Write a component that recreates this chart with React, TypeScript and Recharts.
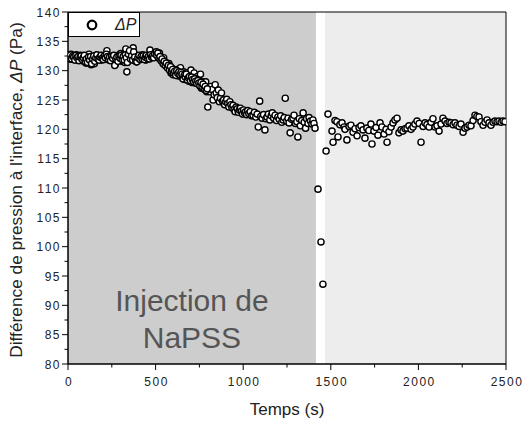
import React from 'react';
import { ScatterChart, Scatter, XAxis, YAxis, ReferenceArea, Legend } from 'recharts';

const FONT = '"Liberation Sans", Arial, Helvetica, sans-serif';

// Tick values (major + minor)
const xTicks = [0, 250, 500, 750, 1000, 1250, 1500, 1750, 2000, 2250, 2500];
const yTicks = [80, 82.5, 85, 87.5, 90, 92.5, 95, 97.5, 100, 102.5, 105, 107.5, 110, 112.5, 115, 117.5, 120, 122.5, 125, 127.5, 130, 132.5, 135, 137.5, 140];
const xMajorStep = 500;
const yMajorStep = 5;

// Shaded phases (s)
const injectionStart = 0;
const injectionEnd = 1415;
const recoveryStart = 1467;
const recoveryEnd = 2500;

// Plateau before injection effect (s, Pa)
const timePlateau = [0, 6, 12, 18, 24, 30, 36, 42, 48, 54, 60, 66, 72, 78, 84, 90, 96, 102, 108, 114, 120, 126, 132, 138, 144, 150, 156, 162, 168, 174, 180, 186, 192, 198, 204, 210, 216, 222, 228, 234, 240, 246, 252, 258, 264, 270, 276, 282, 288, 294, 300, 306, 312, 318, 324, 330, 336, 342, 348, 354, 360, 366, 372, 378, 384, 390, 396, 402, 408, 414, 420, 426, 432, 438, 444, 450, 456, 462, 468, 474, 480, 486, 492, 498];
const dpPlateau = [132.6, 132.3, 132.0, 132.8, 132.4, 131.9, 132.5, 132.2, 132.7, 131.8, 132.4, 132.1, 132.6, 132.0, 132.3, 131.6, 132.5, 131.3, 131.3, 132.2, 132.8, 132.0, 131.0, 131.5, 132.4, 131.2, 132.1, 132.6, 131.9, 132.3, 132.0, 132.5, 131.8, 132.2, 132.4, 131.9, 132.6, 133.4, 132.1, 131.8, 132.3, 132.0, 132.5, 131.7, 132.2, 131.1, 132.4, 131.8, 132.6, 132.0, 132.9, 131.6, 132.3, 132.8, 131.4, 133.7, 129.8, 132.5, 132.2, 133.0, 131.9, 132.4, 133.9, 132.1, 132.6, 131.5, 132.3, 132.0, 132.5, 131.9, 132.2, 132.7, 132.1, 132.4, 131.8, 132.3, 132.0, 132.6, 133.5, 132.2, 132.4, 132.8, 132.5, 133.0];
const timePlateauB = [3, 9, 15, 21, 27, 33, 39, 45, 51, 57, 63, 69, 75, 81, 87, 93, 99, 105, 111, 117, 123, 129, 135, 141, 147, 153, 159, 165, 171, 177, 183, 189, 195, 201, 207, 213, 219, 225, 231, 237, 243, 249, 255, 261, 267, 273, 279, 285, 291, 297, 303, 309, 315, 321, 327, 333, 339, 345, 351, 357, 363, 369, 375, 381, 387, 393, 399, 405, 411, 417, 423, 429, 435, 441, 447, 453, 459, 465, 471, 477, 483, 489, 495];
const dpPlateauB = [132.4, 132.1, 132.7, 132.0, 132.5, 132.3, 131.8, 132.6, 132.2, 132.4, 131.7, 132.3, 132.5, 131.9, 132.2, 132.6, 131.5, 132.0, 131.4, 132.3, 131.8, 132.4, 131.2, 132.0, 132.5, 131.6, 132.2, 132.7, 132.0, 131.8, 132.3, 132.6, 132.1, 131.9, 132.5, 132.2, 132.8, 132.4, 131.9, 132.3, 131.7, 132.4, 132.1, 132.6, 130.9, 132.0, 132.3, 131.6, 132.4, 132.1, 132.6, 131.9, 132.4, 131.8, 132.7, 132.2, 131.4, 132.8, 133.4, 132.0, 132.5, 131.8, 133.2, 132.3, 131.6, 131.5, 132.2, 132.6, 131.9, 132.4, 132.0, 132.5, 131.9, 132.3, 132.6, 132.1, 132.4, 132.0, 132.7, 132.3, 132.5, 132.2, 132.9];

// Decrease during injection
const timeDecline = [504, 510, 516, 522, 528, 534, 540, 546, 552, 558, 564, 570, 576, 582, 588, 594, 600, 606, 612, 618, 624, 630, 636, 642, 648, 654, 660, 666, 672, 678, 684, 690, 696, 702, 708, 714, 720, 726, 732, 738, 744, 750, 756, 762, 768, 774, 780, 786, 792, 798, 804, 810, 816, 822, 828, 834, 840, 846, 852, 858, 864, 870, 876, 882, 888, 894, 900, 906, 912, 918, 924, 930, 936, 942, 948, 954, 960, 966, 972, 978, 984, 990, 996, 1002, 1008, 1014, 1020, 1026, 1032, 1040, 1048, 1056, 1064, 1072, 1080, 1086, 1094, 1100, 1108, 1116, 1124, 1130, 1136, 1144, 1152, 1160, 1166, 1174, 1182, 1190, 1198, 1206, 1214, 1220, 1228, 1234, 1240, 1248, 1256, 1262, 1268, 1276, 1284, 1290, 1298, 1306, 1312, 1320, 1326, 1334, 1342, 1348, 1356, 1362, 1370, 1376, 1384, 1392, 1398, 1404, 1410];
const dpDecline = [133.2, 132.8, 132.3, 133.0, 132.0, 131.9, 131.5, 132.2, 131.0, 131.4, 130.8, 130.6, 131.2, 130.3, 129.6, 130.4, 129.3, 130.0, 129.8, 129.4, 130.2, 129.1, 129.6, 130.5, 129.0, 128.8, 129.8, 128.5, 128.9, 129.6, 129.2, 128.2, 129.3, 130.1, 128.0, 128.7, 129.6, 127.9, 128.4, 129.0, 128.6, 127.6, 129.4, 127.0, 128.1, 127.4, 126.8, 128.1, 126.4, 123.8, 127.0, 126.4, 127.3, 126.8, 125.0, 125.9, 127.6, 126.2, 125.4, 126.7, 124.7, 125.3, 126.2, 124.8, 125.0, 124.2, 124.7, 125.1, 124.4, 123.8, 124.7, 124.2, 123.7, 124.1, 123.4, 123.0, 123.8, 123.5, 122.9, 123.3, 123.6, 123.1, 122.6, 123.3, 122.8, 123.0, 122.5, 123.2, 122.7, 123.0, 122.3, 122.4, 122.9, 122.1, 122.6, 120.4, 124.8, 122.2, 121.9, 122.5, 119.9, 121.8, 122.1, 122.6, 121.6, 122.3, 122.8, 121.9, 122.4, 121.5, 122.1, 121.7, 122.3, 121.2, 121.6, 122.0, 125.3, 121.4, 121.9, 121.1, 119.4, 121.7, 121.9, 122.4, 121.0, 121.3, 118.7, 121.8, 120.6, 121.5, 122.8, 121.2, 120.2, 121.8, 121.0, 122.0, 121.4, 120.9, 121.6, 121.0, 120.2];
const timeDeclineB = [507, 513, 519, 525, 531, 537, 543, 549, 555, 561, 567, 573, 579, 585, 591, 597, 603, 609, 615, 621, 627, 633, 639, 645, 651, 657, 663, 669, 675, 681, 687, 693, 699, 705, 711, 717, 723, 729, 735, 741, 747, 753, 759, 765, 771, 777, 783, 789, 795];
const dpDeclineB = [132.6, 133.0, 132.1, 132.4, 131.7, 132.0, 131.2, 131.6, 130.9, 131.3, 130.5, 130.9, 130.1, 130.7, 129.9, 130.2, 129.6, 129.9, 129.2, 130.0, 129.5, 129.8, 129.3, 129.7, 129.4, 128.6, 129.2, 128.9, 129.4, 128.4, 128.8, 129.0, 128.3, 128.9, 128.5, 128.1, 128.6, 128.2, 127.8, 128.3, 127.9, 127.4, 128.0, 127.2, 127.7, 126.9, 127.3, 126.6, 126.9];

// Drop and recovery after injection
const timeRecovery = [1427, 1444, 1455, 1473, 1484, 1507, 1513, 1524, 1535, 1541, 1552, 1564, 1576, 1581, 1592, 1604, 1615, 1627, 1638, 1650, 1661, 1672, 1684, 1695, 1706, 1717, 1729, 1735, 1746, 1758, 1769, 1781, 1792, 1804, 1815, 1821, 1832, 1844, 1855, 1866, 1878, 1889, 1901, 1912, 1924, 1935, 1946, 1958, 1969, 1980, 1992, 2004, 2015, 2027, 2038, 2049, 2061, 2072, 2083, 2095, 2106, 2118, 2129, 2140, 2152, 2163, 2175, 2186, 2198, 2209, 2220, 2232, 2243, 2255, 2266, 2278, 2289, 2300, 2312, 2323, 2334, 2346, 2357, 2369, 2380, 2392, 2403, 2414, 2426, 2437, 2449, 2460, 2472, 2483, 2494];
const dpRecovery = [109.8, 100.8, 93.6, 116.3, 122.6, 119.7, 117.8, 121.5, 121.3, 118.7, 120.8, 121.1, 120.4, 120.0, 118.2, 120.5, 120.7, 119.5, 120.1, 118.9, 120.3, 120.6, 119.9, 118.5, 120.2, 119.8, 120.9, 117.5, 119.7, 120.3, 119.0, 121.1, 120.4, 119.2, 120.0, 117.8, 119.6, 120.4, 121.1, 121.6, 121.9, 119.4, 119.9, 119.7, 120.1, 120.2, 120.6, 120.0, 120.4, 120.9, 121.4, 121.0, 117.8, 120.5, 121.1, 120.8, 120.4, 121.2, 121.8, 120.4, 120.6, 119.7, 120.9, 121.9, 121.4, 121.0, 121.2, 121.1, 120.8, 121.1, 120.7, 120.5, 120.9, 119.5, 120.2, 120.4, 120.7, 120.6, 121.5, 122.4, 122.2, 122.1, 121.3, 120.7, 121.2, 121.6, 121.1, 120.7, 121.2, 121.4, 121.3, 121.4, 121.2, 121.4, 121.3];

const allTimes = [...timePlateau, ...timePlateauB, ...timeDecline, ...timeDeclineB, ...timeRecovery];
const allDp = [...dpPlateau, ...dpPlateauB, ...dpDecline, ...dpDeclineB, ...dpRecovery];
const data = allTimes.map((t, i) => ({ t, p: allDp[i] }));

const tickStyle = { fontFamily: FONT, fontSize: 12, fill: '#222', letterSpacing: 1.5 };

const XTick = (props: any) => {
  const { x, y, payload } = props;
  const major = payload.value % xMajorStep === 0;
  return (
    <g>
      <line x1={x} x2={x} y1={y} y2={y + (major ? 6 : 3.5)} stroke="#000" strokeWidth={1} />
      {major && (
        <text x={x + 1} y={y + 22} textAnchor="middle" {...tickStyle}>
          {payload.value}
        </text>
      )}
    </g>
  );
};

const YTick = (props: any) => {
  const { x, y, payload } = props;
  const major = payload.value % yMajorStep === 0;
  return (
    <g>
      <line x1={x - (major ? 6 : 3.5)} x2={x} y1={y} y2={y} stroke="#000" strokeWidth={1} />
      {major && (
        <text x={x - 7} y={y + 4.5} textAnchor="end" {...tickStyle}>
          {payload.value}
        </text>
      )}
    </g>
  );
};

const Marker = (props: any) => {
  const { cx, cy } = props;
  if (cx == null || cy == null) return null;
  return <circle cx={cx} cy={cy} r={3.1} fill="#fff" stroke="#000" strokeWidth={1.4} />;
};

const YTitle = (props: any) => {
  const vb = props.viewBox || { x: 0, y: 12, width: 68, height: 352 };
  const cx = vb.x + 16;
  const cy = vb.y + vb.height / 2 + 2;
  return (
    <text
      x={cx}
      y={cy}
      transform={`rotate(-90 ${cx} ${cy})`}
      textAnchor="middle"
      dominantBaseline="central"
      fontFamily={FONT}
      fontSize={17.3}
      fill="#222"
    >
      Différence de pression à l'interface, <tspan fontStyle="italic">ΔP</tspan> (Pa)
    </text>
  );
};

const InjectionLabel = (props: any) => {
  const vb = props.viewBox;
  if (!vb) return null;
  const cx = vb.x + vb.width / 2;
  const bottom = vb.y + vb.height;
  return (
    <text textAnchor="middle" fill="#555" fontFamily={FONT} fontSize={30}>
      <tspan x={cx} y={bottom - 53}>Injection de</tspan>
      <tspan x={cx} y={bottom - 16}>NaPSS</tspan>
    </text>
  );
};

const LegendBox = (props: any) => {
  const name = props.payload && props.payload[0] ? props.payload[0].value : 'ΔP';
  return (
    <div
      style={{
        width: 72,
        height: 25,
        boxSizing: 'border-box',
        border: '1px solid #000',
        background: '#fff',
        position: 'relative',
        fontFamily: FONT,
      }}
    >
      <svg width={20} height={20} style={{ position: 'absolute', left: 13, top: 2 }}>
        <circle cx={10} cy={10} r={4.3} fill="#fff" stroke="#000" strokeWidth={2.2} />
      </svg>
      <span style={{ position: 'absolute', left: 46, top: 2, fontSize: 16, fontStyle: 'italic', color: '#222', lineHeight: '20px' }}>
        {name}
      </span>
    </div>
  );
};

export default function App() {
  return (
    <div style={{ position: 'absolute', left: 0, top: 0, background: '#fff' }}>
      <ScatterChart width={522} height={425} margin={{ top: 12, right: 16, bottom: 0, left: 0 }}>
        <XAxis
          type="number"
          dataKey="t"
          domain={[0, 2500]}
          ticks={xTicks}
          interval={0}
          height={61}
          tickSize={0}
          tickMargin={0}
          tickLine={false}
          tick={<XTick />}
          axisLine={{ stroke: '#000', strokeWidth: 1 }}
          allowDataOverflow
          label={{ value: 'Temps (s)', position: 'insideBottom', offset: 10, style: { fontFamily: FONT, fontSize: 17, fill: '#222' } }}
        />
        <YAxis
          type="number"
          dataKey="p"
          domain={[80, 140]}
          ticks={yTicks}
          interval={0}
          width={68}
          tickSize={0}
          tickMargin={0}
          tickLine={false}
          tick={<YTick />}
          axisLine={{ stroke: '#000', strokeWidth: 1 }}
          allowDataOverflow
          label={{ content: (p: any) => <YTitle {...p} /> }}
        />
        <ReferenceArea
          x1={injectionStart}
          x2={injectionEnd}
          y1={80}
          y2={140}
          fill="#cdcdcd"
          fillOpacity={1}
          stroke="none"
          label={{ content: (p: any) => <InjectionLabel {...p} /> }}
        />
        <ReferenceArea x1={recoveryStart} x2={recoveryEnd} y1={80} y2={140} fill="#ededed" fillOpacity={1} stroke="none" />
        <Scatter name="ΔP" data={data} shape={<Marker />} isAnimationActive={false} />
        <ReferenceArea x1={0} x2={2500} y1={80} y2={140} fill="none" stroke="#000" strokeWidth={1} />
        <Legend
          layout="horizontal"
          verticalAlign="middle"
          align="center"
          wrapperStyle={{ left: 68, top: 12, width: 72, height: 25 }}
          content={(p: any) => <LegendBox {...p} />}
        />
      </ScatterChart>
    </div>
  );
}
